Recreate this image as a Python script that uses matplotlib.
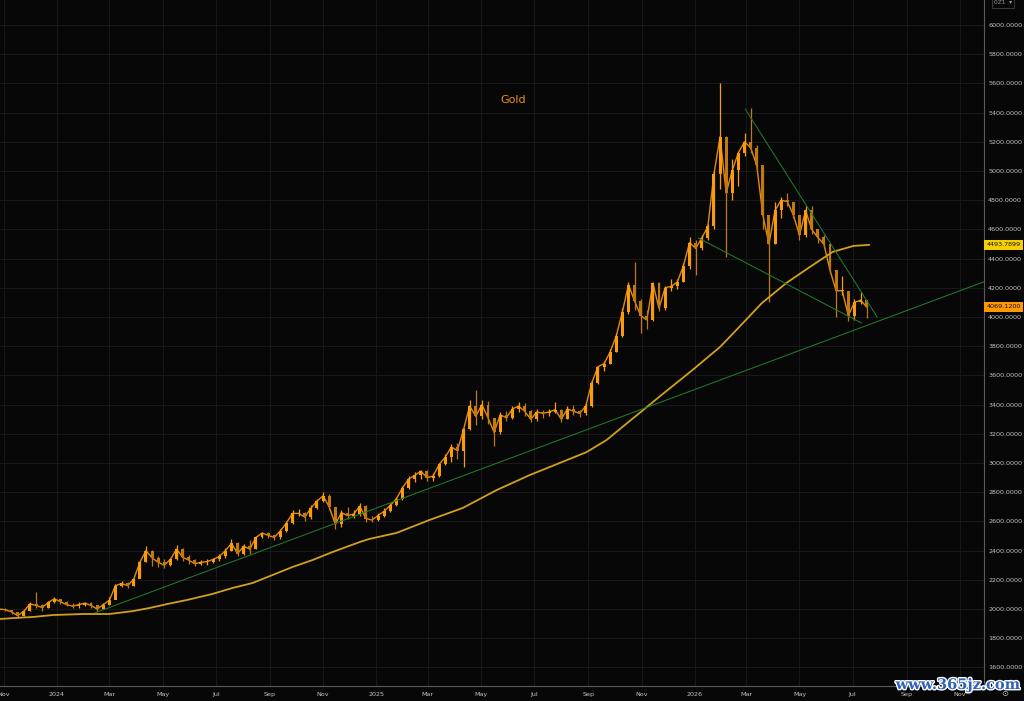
import numpy as np
import pandas as pd
import matplotlib
matplotlib.use('Agg')
import matplotlib.pyplot as plt
import matplotlib.dates as mdates
import matplotlib.transforms as mtrans
from matplotlib.ticker import FuncFormatter, MultipleLocator
import matplotlib.patheffects as pe

# ---------------- data (weekly bars) ----------------
week_start = '2023-10-27'
open_first = 1998
close = [2000, 1995, 1980, 1955, 1985, 2035, 2025, 2010, 2045, 2070,
         2050, 2030, 2020, 2030, 2040, 2025, 2000, 2030, 2060, 2160,
         2175, 2160, 2205, 2320, 2400, 2350, 2320, 2300, 2340, 2410,
         2355, 2335, 2310, 2320, 2325, 2340, 2360, 2400, 2450, 2380,
         2430, 2410, 2490, 2520, 2505, 2490, 2535, 2590, 2655, 2655,
         2630, 2690, 2740, 2775, 2700, 2580, 2660, 2640, 2650, 2705,
         2620, 2610, 2640, 2670, 2710, 2755, 2830, 2890, 2915, 2945,
         2900, 2910, 2990, 3040, 3110, 3085, 3230, 3390, 3320, 3400,
         3310, 3210, 3330, 3310, 3370, 3390, 3355, 3300, 3350, 3340,
         3350, 3365, 3300, 3370, 3355, 3340, 3390, 3550, 3660, 3680,
         3760, 3870, 4035, 4220, 4110, 4010, 3980, 4230, 4060, 4200,
         4210, 4240, 4350, 4510, 4470, 4540, 4620, 4980, 5235, 4850,
         5005, 5125, 5200, 5160, 5040, 4700, 4500, 4730, 4800, 4790,
         4700, 4560, 4730, 4600, 4545, 4500, 4320, 4180, 4180, 4010,
         4100, 4115, 4069.12]
high = [2010, 2005, 1995, 1975, 1995, 2045, 2120, 2035, 2055, 2080,
        2070, 2055, 2040, 2045, 2050, 2045, 2030, 2040, 2085, 2170,
        2195, 2185, 2215, 2330, 2430, 2405, 2360, 2345, 2350, 2440,
        2415, 2370, 2340, 2335, 2340, 2350, 2375, 2420, 2480, 2460,
        2445, 2470, 2500, 2530, 2530, 2510, 2545, 2600, 2675, 2685,
        2665, 2710, 2755, 2800, 2790, 2690, 2680, 2700, 2680, 2725,
        2710, 2635, 2660, 2690, 2725, 2770, 2845, 2910, 2940, 2955,
        2950, 2930, 3000, 3060, 3130, 3140, 3240, 3430, 3500, 3430,
        3425, 3300, 3350, 3355, 3390, 3420, 3410, 3360, 3370, 3360,
        3370, 3420, 3370, 3390, 3395, 3365, 3410, 3560, 3665, 3700,
        3780, 3890, 4060, 4240, 4380, 4120, 4050, 4240, 4240, 4215,
        4260, 4260, 4370, 4550, 4530, 4560, 4640, 5000, 5600, 5240,
        5080, 5140, 5260, 5430, 5180, 5020, 4650, 4790, 4820, 4850,
        4790, 4700, 4760, 4760, 4580, 4560, 4480, 4290, 4280, 4120,
        4120, 4170, 4110]
low = [1990, 1985, 1965, 1940, 1955, 1990, 2010, 1990, 2005, 2040,
       2035, 2020, 2005, 2010, 2020, 2010, 1990, 2000, 2030, 2080,
       2150, 2145, 2160, 2210, 2320, 2295, 2290, 2280, 2295, 2335,
       2330, 2310, 2295, 2300, 2305, 2315, 2330, 2350, 2395, 2360,
       2370, 2375, 2410, 2485, 2485, 2470, 2480, 2530, 2585, 2635,
       2605, 2620, 2685, 2730, 2680, 2545, 2560, 2620, 2625, 2640,
       2595, 2595, 2600, 2630, 2665, 2705, 2750, 2820, 2870, 2890,
       2875, 2880, 2905, 2985, 3010, 3030, 2970, 3225, 3260, 3300,
       3270, 3120, 3200, 3285, 3300, 3350, 3320, 3280, 3290, 3310,
       3320, 3340, 3280, 3300, 3330, 3315, 3330, 3385, 3540, 3630,
       3680, 3760, 3860, 4020, 4050, 3890, 3920, 3970, 4040, 4050,
       4180, 4190, 4240, 4330, 4290, 4460, 4530, 4600, 4880, 4410,
       4800, 4900, 5100, 5120, 5000, 4600, 4100, 4500, 4680, 4760,
       4680, 4530, 4550, 4570, 4510, 4470, 4300, 4000, 4150, 3970,
       3980, 4090, 3990]

# moving-average line (read points)
ma_dates = ['2023-10-28', '2023-11-14', '2023-12-05', '2023-12-27', '2024-01-31',
            '2024-03-01', '2024-03-28', '2024-04-16', '2024-05-06', '2024-05-29',
            '2024-06-27', '2024-07-20', '2024-08-12', '2024-09-04', '2024-09-27',
            '2024-10-20', '2024-11-12', '2024-12-13', '2024-12-24', '2025-01-24',
            '2025-03-03', '2025-04-10', '2025-05-19', '2025-06-26', '2025-08-02',
            '2025-08-30', '2025-09-22', '2025-10-15', '2025-10-30', '2025-11-22',
            '2025-12-29', '2026-01-30', '2026-02-21', '2026-03-19', '2026-04-16',
            '2026-05-13', '2026-06-08', '2026-07-02', '2026-07-20']
ma_values = [1932, 1939, 1946, 1959, 1966,
             1966, 1986, 2007, 2034, 2062,
             2103, 2144, 2178, 2233, 2288,
             2336, 2391, 2459, 2480, 2521,
             2610, 2692, 2815, 2918, 3007,
             3075, 3158, 3271, 3344, 3457,
             3635, 3795, 3932, 4096, 4233,
             4343, 4446, 4487, 4494]

# hand-drawn trend lines (endpoints)
trend_up_dates = ['2024-02-14', '2026-11-28']
trend_up_values = [1975, 4240]
trend_down_dates = ['2026-02-28', '2026-07-29']
trend_down_values = [5423, 4000]
trend_low_dates = ['2026-01-05', '2026-07-11']
trend_low_values = [4541, 3959]

title_text = 'Gold'
ma_label = '4493.7899'
ma_label_value = 4493.7899
last_label = '4069.1200'
last_label_value = 4069.12

# ---------------- styling ----------------
BG = '#070707'
GRID = '#181818'
UP = '#f99b0c'
DOWN = '#c27a10'
MA_COL = '#d1a01c'
TL_COL = '#1f7a2c'
TXT = '#c4c4c4'

fig = plt.figure(figsize=(10.24, 7.01), dpi=100, facecolor=BG)
ax = fig.add_axes([0, 15 / 701, 984 / 1024, 686 / 701])
ax.set_facecolor(BG)

dates = pd.date_range(week_start, periods=len(close), freq='7D')
xs = mdates.date2num(dates)
c = np.array(close, dtype=float)
o = np.concatenate([[open_first], c[:-1]])
h = np.array(high, dtype=float)
l = np.array(low, dtype=float)
up = c >= o
cols = np.where(up, UP, DOWN)
bottom = np.minimum(o, c)
height = np.maximum(np.abs(c - o), 4)

ax.plot(xs, c, color=UP, lw=1.0, zorder=3, alpha=0.9)
ax.vlines(xs, l, h, colors=cols, lw=0.9, zorder=3)
ax.bar(xs, height, bottom=bottom, width=3.4, color=cols, linewidth=0, zorder=4)

# moving average
ax.plot(mdates.date2num(pd.to_datetime(ma_dates)), ma_values, color=MA_COL, lw=1.3, zorder=5,
        solid_capstyle='round')

# trend lines
for d, v in [(trend_up_dates, trend_up_values), (trend_down_dates, trend_down_values),
             (trend_low_dates, trend_low_values)]:
    ax.plot(mdates.date2num(pd.to_datetime(d)), v, color=TL_COL, lw=0.75, zorder=6)

# axes limits
base = mdates.date2num(pd.Timestamp('2024-01-01'))
ax.set_xlim(base - 65.3, base + 1062.5)
ax.set_ylim(1473, 6171)

# ticks
ax.xaxis.set_major_locator(mdates.MonthLocator(bymonth=[1, 3, 5, 7, 9, 11]))
def xfmt(v, pos):
    d = mdates.num2date(v)
    return str(d.year) if d.month == 1 else d.strftime('%b')
ax.xaxis.set_major_formatter(FuncFormatter(xfmt))
ax.yaxis.tick_right()
ax.yaxis.set_major_locator(MultipleLocator(200))
ax.yaxis.set_major_formatter(FuncFormatter(lambda v, p: f'{v:.4f}'))
ax.tick_params(axis='both', length=0, labelsize=4.6, labelcolor=TXT)
ax.tick_params(axis='x', pad=4)
ax.tick_params(axis='y', pad=3)
ax.grid(True, color=GRID, lw=0.8, zorder=0)
ax.set_axisbelow(True)

for s in ['top', 'left']:
    ax.spines[s].set_visible(False)
for s in ['right', 'bottom']:
    ax.spines[s].set_color('#5a5a5a')
    ax.spines[s].set_linewidth(0.8)

# price labels on the right axis
tr = mtrans.blended_transform_factory(ax.transAxes, ax.transData)
ax.text(1.0025, ma_label_value, ma_label, transform=tr, fontsize=4.6, color='#111111',
        va='center', ha='left', clip_on=False, zorder=10,
        bbox=dict(boxstyle='square,pad=0.35', fc='#f7d000', ec='none'))
ax.text(1.0025, last_label_value, last_label, transform=tr, fontsize=4.6, color='#111111',
        va='center', ha='left', clip_on=False, zorder=10,
        bbox=dict(boxstyle='square,pad=0.35', fc='#ff9800', ec='none'))

# title
fig.text(513 / 1024, 1 - 100 / 701, title_text, color='#ea920d', fontsize=8,
         ha='center', va='center')

# small dropdown box top right
fig.text(1003 / 1024, 1 - 3 / 701, '0Z1  ▾', color='#9a9a9a', fontsize=4.2,
         ha='center', va='center',
         bbox=dict(boxstyle='square,pad=0.4', fc=BG, ec='#444444', lw=0.6))

# clock icon bottom right
fig.text(1005 / 1024, 1 - 694 / 701, '⊙', color='#bbbbbb', fontsize=6, ha='center', va='center')

# watermark
fig.text(958 / 1024, 1 - 685 / 701, 'www.365jz.com', color='#2f62b8', fontsize=10.5,
         family='DejaVu Serif', fontweight='bold', ha='center', va='center',
         path_effects=[pe.withStroke(linewidth=2.0, foreground='white')])

fig.savefig('out.png', dpi=100, facecolor=BG)
